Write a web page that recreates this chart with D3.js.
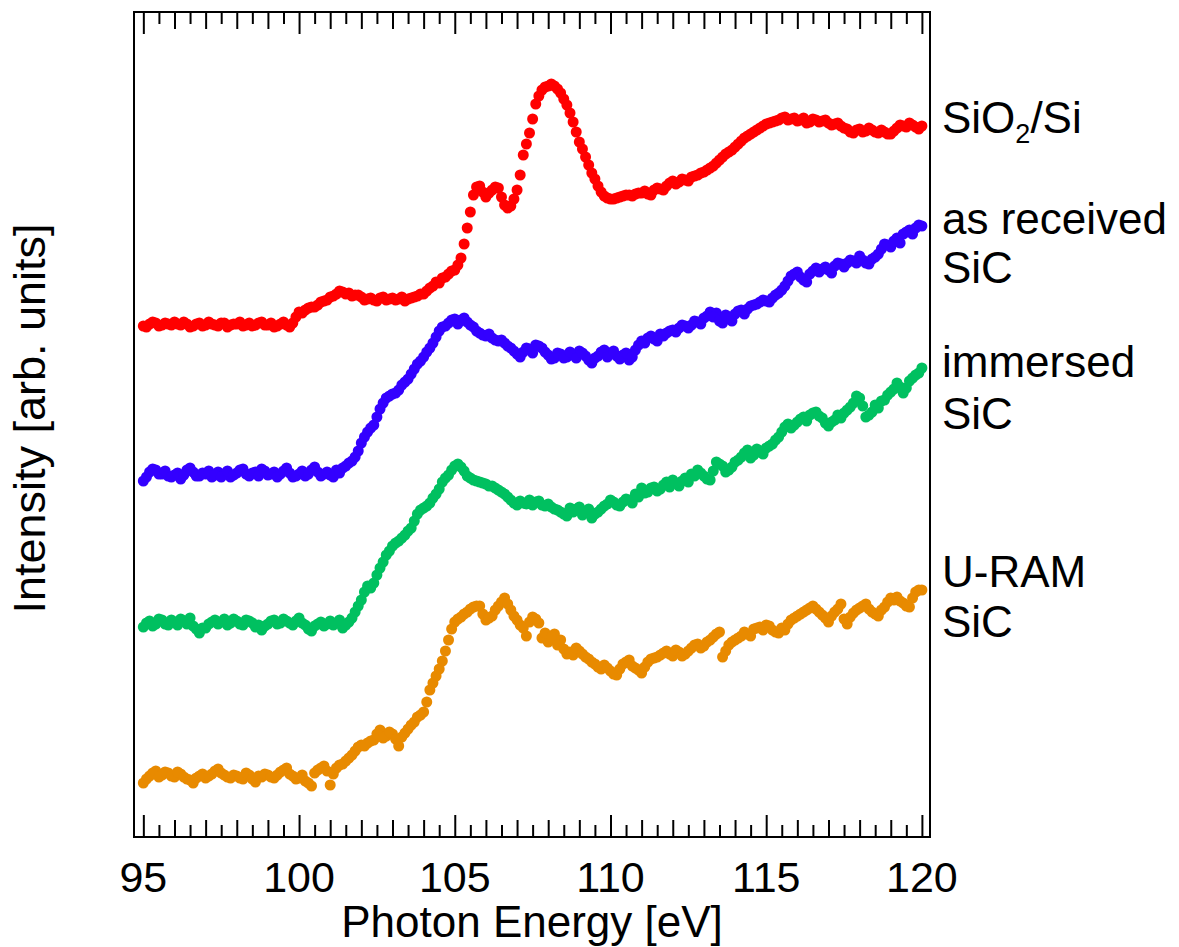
<!DOCTYPE html>
<html>
<head>
<meta charset="utf-8">
<script src="https://cdn.jsdelivr.net/npm/d3@7"></script>
<style>
  body { margin: 0; background: #fff; }
  text { font-family: "Liberation Sans", Arial, sans-serif; fill: #000; }
</style>
</head>
<body>
<div id="chart"></div>
<script>
// photon energy grid [eV]: readings at 95.0, 95.2 ... and the points in between at 95.1, 95.3 ...
var energies = d3.range(0, 126).map(function (i) { return +(95 + i * 0.2).toFixed(1); });
var energiesMid = d3.range(0, 125).map(function (i) { return +(95.1 + i * 0.2).toFixed(1); });

// intensities (arb. units, already offset for display)
var sio2Si = [5.11,5.13,5.14,5.12,5.13,5.15,5.12,5.13,5.11,5.14,5.12,5.13,5.11,5.14,5.12,5.13,5.11,5.14,5.12,5.15,
  5.12,5.10,5.13,5.12,5.14,5.25,5.27,5.30,5.32,5.36,5.40,5.43,5.45,5.44,5.42,5.40,5.38,5.37,5.39,5.37,
  5.39,5.38,5.36,5.39,5.41,5.43,5.49,5.55,5.59,5.63,5.67,5.79,6.09,6.42,6.51,6.40,6.47,6.49,6.32,6.31,
  6.47,6.82,7.04,7.33,7.47,7.51,7.51,7.44,7.32,7.15,6.95,6.80,6.64,6.51,6.41,6.38,6.39,6.41,6.42,6.43,
  6.44,6.43,6.47,6.48,6.51,6.56,6.55,6.57,6.60,6.62,6.65,6.69,6.74,6.80,6.85,6.90,6.96,7.01,7.05,7.09,
  7.13,7.15,7.17,7.20,7.18,7.16,7.19,7.15,7.17,7.16,7.14,7.13,7.11,7.08,7.04,7.08,7.06,7.07,7.04,7.05,
  7.03,7.09,7.11,7.14,7.10,7.11];
var sio2SiMid = [5.10,5.15,5.11,5.14,5.12,5.13,5.15,5.10,5.13,5.11,5.15,5.12,5.14,5.10,5.13,5.15,5.12,5.11,5.14,5.12,
  5.14,5.11,5.15,5.10,5.20,5.24,5.29,5.30,5.35,5.37,5.41,5.46,5.43,5.41,5.42,5.37,5.39,5.36,5.40,5.38,
  5.37,5.40,5.38,5.40,5.43,5.46,5.51,5.54,5.60,5.66,5.72,5.93,6.25,6.50,6.45,6.44,6.50,6.40,6.29,6.38,
  6.62,6.93,7.18,7.41,7.50,7.53,7.48,7.38,7.24,7.05,6.88,6.72,6.58,6.45,6.39,6.38,6.40,6.42,6.41,6.44,
  6.46,6.42,6.49,6.47,6.54,6.53,6.58,6.56,6.61,6.64,6.67,6.71,6.77,6.83,6.87,6.93,6.99,7.03,7.07,7.11,
  7.14,7.16,7.19,7.17,7.19,7.17,7.14,7.18,7.15,7.17,7.12,7.14,7.09,7.05,7.07,7.05,7.09,7.05,7.07,7.03,
  7.06,7.12,7.10,7.12,7.08];

var asReceived = [3.56,3.65,3.67,3.63,3.61,3.62,3.58,3.67,3.65,3.61,3.63,3.60,3.65,3.63,3.60,3.64,3.68,3.61,3.65,3.68,
  3.62,3.65,3.63,3.69,3.60,3.63,3.61,3.67,3.65,3.63,3.62,3.67,3.69,3.74,3.80,3.94,4.05,4.12,4.28,4.39,
  4.43,4.47,4.55,4.63,4.73,4.80,4.89,5.00,5.10,5.14,5.18,5.17,5.15,5.10,5.04,5.01,4.99,4.96,4.94,4.89,
  4.83,4.85,4.88,4.92,4.89,4.82,4.79,4.83,4.80,4.82,4.86,4.81,4.74,4.81,4.87,4.84,4.81,4.82,4.77,4.87,
  4.96,4.99,4.98,5.03,5.04,5.07,5.09,5.11,5.12,5.15,5.19,5.25,5.24,5.14,5.19,5.23,5.27,5.28,5.32,5.35,
  5.36,5.39,5.44,5.51,5.61,5.65,5.57,5.63,5.69,5.68,5.67,5.71,5.73,5.74,5.76,5.81,5.74,5.78,5.83,5.93,
  5.90,5.99,6.03,6.07,6.09,6.11];
var asReceivedMid = [3.60,3.68,3.63,3.66,3.60,3.64,3.62,3.69,3.61,3.64,3.66,3.62,3.60,3.66,3.62,3.67,3.63,3.64,3.61,3.66,
  3.63,3.60,3.66,3.64,3.61,3.66,3.63,3.70,3.61,3.65,3.60,3.64,3.71,3.76,3.86,4.00,4.09,4.20,4.34,4.41,
  4.44,4.52,4.58,4.68,4.76,4.85,4.94,5.06,5.11,5.17,5.13,5.19,5.12,5.06,5.02,5.03,4.97,4.97,4.91,4.86,
  4.80,4.89,4.84,4.91,4.85,4.78,4.84,4.79,4.85,4.79,4.84,4.77,4.79,4.85,4.80,4.86,4.78,4.84,4.80,4.92,
  4.94,5.01,4.96,5.01,5.06,5.05,5.12,5.09,5.16,5.13,5.21,5.20,5.16,5.22,5.16,5.26,5.23,5.31,5.33,5.37,
  5.35,5.42,5.47,5.56,5.63,5.60,5.55,5.66,5.65,5.70,5.64,5.74,5.70,5.77,5.74,5.77,5.73,5.80,5.88,5.92,
  5.96,5.94,6.05,6.03,6.12];

var immersed = [2.10,2.16,2.13,2.17,2.12,2.15,2.18,2.13,2.11,2.04,2.09,2.15,2.13,2.18,2.14,2.16,2.12,2.16,2.10,2.07,
  2.13,2.17,2.14,2.16,2.12,2.19,2.12,2.06,2.13,2.11,2.16,2.14,2.09,2.15,2.25,2.37,2.51,2.54,2.69,2.82,
  2.91,2.96,3.02,3.09,3.23,3.29,3.34,3.43,3.55,3.62,3.71,3.70,3.61,3.57,3.55,3.53,3.51,3.47,3.43,3.37,
  3.32,3.34,3.37,3.35,3.32,3.33,3.28,3.25,3.21,3.25,3.30,3.26,3.19,3.25,3.31,3.37,3.32,3.35,3.37,3.43,
  3.49,3.45,3.50,3.48,3.55,3.57,3.51,3.59,3.63,3.67,3.61,3.57,3.75,3.71,3.67,3.75,3.80,3.87,3.82,3.85,
  3.89,3.93,4.00,4.10,4.09,4.15,4.20,4.22,4.25,4.19,4.11,4.17,4.19,4.27,4.34,4.39,4.20,4.25,4.29,4.37,
  4.45,4.54,4.44,4.56,4.62,4.69];
var immersedMid = [2.14,2.11,2.18,2.13,2.17,2.12,2.16,2.19,2.08,2.09,2.13,2.17,2.15,2.12,2.18,2.13,2.17,2.14,2.12,2.11,
  2.16,2.13,2.18,2.14,2.16,2.14,2.08,2.11,2.15,2.13,2.12,2.17,2.12,2.19,2.31,2.45,2.49,2.62,2.75,2.86,
  2.94,2.99,3.06,3.16,3.27,3.31,3.39,3.48,3.59,3.67,3.73,3.66,3.59,3.56,3.54,3.51,3.49,3.45,3.40,3.34,
  3.36,3.33,3.32,3.36,3.31,3.30,3.27,3.23,3.29,3.28,3.22,3.28,3.23,3.28,3.33,3.35,3.31,3.38,3.34,3.40,
  3.44,3.49,3.46,3.52,3.50,3.54,3.56,3.55,3.61,3.64,3.58,3.66,3.73,3.65,3.70,3.77,3.84,3.79,3.88,3.83,
  3.91,3.97,4.05,4.13,4.12,4.18,4.16,4.24,4.21,4.14,4.15,4.22,4.24,4.30,4.41,4.31,4.22,4.32,4.36,4.42,
  4.48,4.50,4.49,4.59,4.64];

var uRam = [0.54,0.61,0.66,0.62,0.64,0.60,0.63,0.58,0.54,0.61,0.59,0.63,0.68,0.62,0.59,0.61,0.58,0.62,0.55,0.60,
  0.62,0.59,0.65,0.69,0.61,0.59,0.56,0.51,0.67,0.71,0.52,0.69,0.73,0.79,0.86,0.92,0.94,0.97,1.07,1.01,
  1.03,0.91,1.04,1.12,1.20,1.25,1.47,1.61,1.76,1.97,2.15,2.20,2.25,2.30,2.31,2.17,2.21,2.31,2.39,2.27,
  2.17,2.09,2.15,2.18,1.99,1.95,2.03,1.97,1.83,1.82,1.86,1.80,1.75,1.70,1.72,1.66,1.62,1.73,1.77,1.69,
  1.64,1.75,1.79,1.82,1.86,1.81,1.85,1.83,1.89,1.93,1.91,1.97,2.03,1.80,1.92,1.97,2.01,2.03,2.08,2.10,
  2.12,2.07,2.04,2.07,2.17,2.21,2.25,2.29,2.28,2.22,2.15,2.25,2.33,2.13,2.24,2.29,2.33,2.25,2.21,2.30,
  2.39,2.40,2.34,2.30,2.45,2.47];
var uRamMid = [0.58,0.64,0.60,0.65,0.61,0.65,0.60,0.57,0.59,0.63,0.61,0.66,0.64,0.60,0.62,0.59,0.64,0.58,0.61,0.63,
  0.60,0.62,0.67,0.63,0.58,0.62,0.54,0.64,0.69,0.66,0.63,0.72,0.76,0.82,0.90,0.91,0.96,1.03,0.99,1.05,
  0.98,1.00,1.08,1.15,1.22,1.35,1.54,1.68,1.86,2.08,2.18,2.23,2.28,2.31,2.23,2.19,2.27,2.35,2.33,2.21,
  2.12,2.01,2.20,2.14,2.04,2.00,1.92,1.88,1.85,1.89,1.83,1.78,1.73,1.68,1.69,1.63,1.68,1.75,1.71,1.67,
  1.70,1.78,1.80,1.84,1.83,1.87,1.81,1.86,1.92,1.89,1.95,2.00,2.05,1.86,1.95,1.99,2.05,2.01,2.09,2.07,
  2.11,2.05,2.09,2.13,2.19,2.23,2.27,2.31,2.25,2.19,2.21,2.28,2.18,2.20,2.27,2.31,2.28,2.23,2.27,2.35,
  2.37,2.36,2.31,2.39,2.47];

var seriesColors = ["#ff0000", "#3300ff", "#00c060", "#e88a00"];
var allSeries = [[sio2Si, sio2SiMid], [asReceived, asReceivedMid], [immersed, immersedMid], [uRam, uRamMid]];

var xTicks = [95, 100, 105, 110, 115, 120];

var width = 1179, height = 947,
    margin = {top: 12, left: 134, right: 249, bottom: 110},
    plotW = width - margin.left - margin.right,
    plotH = height - margin.top - margin.bottom,
    dotR = 5.5;

var svg = d3.select("#chart").append("svg")
    .attr("width", width)
    .attr("height", height);

var x = d3.scaleLinear().domain([94.7, 120.26]).range([0, plotW]);
var y = d3.scaleLinear().domain([0, 8.25]).range([plotH, 0]);

var g = svg.append("g")
    .attr("transform", "translate(" + margin.left + "," + margin.top + ")");

// points
allSeries.forEach(function (pair, si) {
    var pts = pair[0].map(function (v, i) { return {e: energies[i], v: v}; })
        .concat(pair[1].map(function (v, i) { return {e: energiesMid[i], v: v}; }));
    g.append("g")
        .selectAll("circle")
        .data(pts)
        .enter()
        .append("circle")
        .attr("cx", function (d) { return x(d.e); })
        .attr("cy", function (d) { return y(d.v); })
        .attr("r", dotR)
        .attr("fill", seriesColors[si]);
});

// ticks: major 5 eV, medium 1 eV, minor 0.5 eV, on top and bottom
var allTicks = d3.range(0, 51).map(function (i) { return 95 + i * 0.5; });
function tickLen (t) {
    if (t % 5 === 0) return 22;
    if (t % 1 === 0) return 17;
    return 12;
}

var bottomAxis = d3.axisBottom(x).tickValues(allTicks).tickSize(0).tickFormat("");
g.append("g").attr("transform", "translate(0," + plotH + ")").call(bottomAxis)
    .call(function (a) { a.select(".domain").remove(); })
    .selectAll(".tick line")
    .attr("y2", function (d) { return -tickLen(d); })
    .attr("stroke", "#000")
    .attr("stroke-width", 2);

var topAxis = d3.axisTop(x).tickValues(allTicks).tickSize(0).tickFormat("");
g.append("g").call(topAxis)
    .call(function (a) { a.select(".domain").remove(); })
    .selectAll(".tick line")
    .attr("y2", function (d) { return tickLen(d); })
    .attr("stroke", "#000")
    .attr("stroke-width", 2);

// frame
g.append("rect")
    .attr("x", 0).attr("y", 0)
    .attr("width", plotW).attr("height", plotH)
    .attr("fill", "none")
    .attr("stroke", "#000")
    .attr("stroke-width", 2);

// tick labels
g.selectAll(".xlab")
    .data(xTicks)
    .enter()
    .append("text")
    .attr("class", "xlab")
    .attr("x", function (d) { return x(d); })
    .attr("y", plotH + 55)
    .attr("text-anchor", "middle")
    .style("font-size", "43px")
    .text(function (d) { return d; });

g.append("text")
    .attr("x", plotW / 2)
    .attr("y", plotH + 100)
    .attr("text-anchor", "middle")
    .style("font-size", "44px")
    .text("Photon Energy [eV]");

svg.append("text")
    .attr("transform", "translate(45," + (margin.top + plotH / 2 - 6) + ") rotate(-90)")
    .attr("text-anchor", "middle")
    .style("font-size", "45px")
    .text("Intensity [arb. units]");

// curve labels on the right
var labX = margin.left + plotW + 12;
var lab0 = svg.append("text").attr("x", labX).attr("y", 133).style("font-size", "44px");
lab0.append("tspan").text("SiO");
lab0.append("tspan").attr("dy", 10).style("font-size", "27px").text("2");
lab0.append("tspan").attr("dy", -10).text("/Si");

var labLines = [
    {t: "as received", y: 234}, {t: "SiC", y: 283},
    {t: "immersed", y: 377}, {t: "SiC", y: 429},
    {t: "U-RAM", y: 587}, {t: "SiC", y: 637}
];
svg.selectAll(".clab")
    .data(labLines)
    .enter()
    .append("text")
    .attr("class", "clab")
    .attr("x", labX)
    .attr("y", function (d) { return d.y; })
    .style("font-size", "44px")
    .text(function (d) { return d.t; });
</script>
</body>
</html>
